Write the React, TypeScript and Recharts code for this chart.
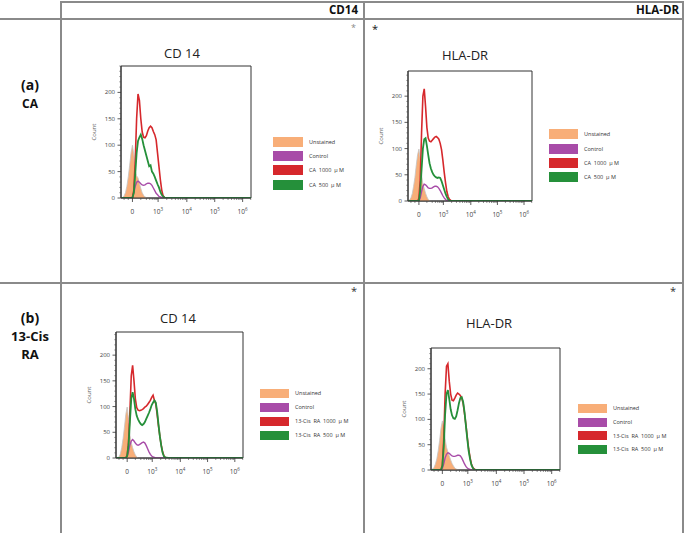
import { ComposedChart, Area, Line, XAxis, YAxis, ReferenceArea } from "recharts";

// channel positions on the display scale (0 -> "0", 0.92 -> 10^3, ...)
const CHANNELS = [
  -0.4, -0.35, -0.3, -0.25, -0.2, -0.15, -0.1, -0.05, 0, 0.05, 0.1, 0.15, 0.2, 0.25, 0.3, 0.35, 0.4, 0.45, 0.5,
  0.55, 0.6, 0.65, 0.7, 0.75, 0.8, 0.85, 0.9, 0.95, 1, 1.05, 1.1, 1.15, 1.2, 1.25, 1.3, 1.35, 1.4, 1.5, 2, 3, 4.25,
];

const Z = (n: number) => Array(n).fill(0);

// (a) CA - CD14
const CD14_CA_UNSTAINED = [0, 1, 4, 10, 22, 40, 62, 85, 100, 82, 52, 42, 38, 28, 18, 10, 5, 2, 1, ...Z(22)];
const CD14_CA_CONTROL = [...Z(8), 2, 10, 22, 30, 32, 30, 27, 25, 24, 25, 27, 28, 28, 27, 24, 19, 14, 9, 6, 3, 2, 1, ...Z(11)];
const CD14_CA_1000 = [...Z(8), 0, 15, 70, 150, 197, 185, 150, 125, 115, 114, 118, 127, 133, 136, 133, 126, 120, 110, 85, 60, 35, 15, 4, 1, ...Z(9)];
const CD14_CA_500 = [...Z(8), 0, 10, 45, 85, 108, 115, 120, 112, 100, 90, 80, 70, 60, 62, 50, 46, 40, 33, 26, 20, 12, 6, 3, 1, ...Z(9)];

// (a) CA - HLA-DR
const HLA_CA_UNSTAINED = [0, 2, 6, 14, 28, 45, 68, 88, 99, 80, 50, 32, 24, 15, 8, 3, 1, ...Z(24)];
const HLA_CA_CONTROL = [...Z(8), 0, 6, 18, 28, 32, 31, 28, 25, 24, 24, 25, 27, 28, 28, 27, 24, 20, 15, 10, 6, 3, 1, ...Z(11)];
const HLA_CA_1000 = [...Z(8), 5, 40, 130, 200, 214, 180, 140, 120, 114, 113, 116, 119, 122, 123, 121, 118, 110, 98, 78, 55, 35, 18, 8, 3, 1, ...Z(8)];
const HLA_CA_500 = [...Z(8), 0, 20, 60, 100, 118, 120, 105, 88, 72, 62, 55, 50, 47, 45, 44, 45, 44, 38, 30, 22, 14, 8, 3, 1, ...Z(9)];

// (b) 13-Cis RA - CD14
const CD14_RA_UNSTAINED = [0, 0, 2, 8, 20, 38, 60, 85, 99, 75, 45, 30, 20, 12, 6, 2, ...Z(25)];
const CD14_RA_CONTROL = [...Z(8), 3, 12, 25, 33, 36, 33, 29, 26, 25, 26, 28, 30, 31, 29, 24, 18, 12, 7, 4, 2, 1, ...Z(12)];
const CD14_RA_1000 = [...Z(8), 5, 30, 90, 160, 180, 150, 115, 98, 93, 92, 93, 94, 96, 99, 101, 104, 108, 112, 118, 122, 112, 105, 85, 62, 42, 25, 12, 4, 1, ...Z(4)];
const CD14_RA_500 = [...Z(8), 4, 25, 70, 115, 128, 115, 95, 82, 75, 70, 66, 64, 66, 70, 76, 82, 88, 95, 103, 108, 112, 108, 90, 65, 42, 24, 10, 3, 1, ...Z(4)];

// (b) 13-Cis RA - HLA-DR
const HLA_RA_UNSTAINED = [0, 2, 5, 12, 22, 38, 58, 82, 97, 85, 62, 45, 36, 28, 20, 13, 8, 4, 2, 1, ...Z(21)];
const HLA_RA_CONTROL = [...Z(8), 3, 12, 24, 31, 34, 33, 30, 28, 27, 27, 28, 29, 29, 28, 24, 18, 12, 7, 4, 2, 1, ...Z(12)];
const HLA_RA_1000 = [...Z(8), 10, 60, 150, 205, 210, 175, 150, 138, 137, 142, 148, 152, 150, 147, 142, 132, 112, 90, 65, 42, 25, 12, 5, 2, ...Z(9)];
const HLA_RA_500 = [...Z(8), 8, 45, 110, 150, 158, 140, 120, 108, 102, 101, 106, 118, 132, 142, 144, 135, 115, 88, 62, 38, 22, 10, 4, 1, ...Z(9)];

const LEGEND_CA = ["Unstained", "Control", "CA  1000  µ M", "CA  500  µ M"];
const LEGEND_RA = ["Unstained", "Control", "13-Cis  RA  1000  µ M", "13-Cis  RA  500  µ M"];

const X_TICKS = [0, 0.92, 1.95, 2.95, 3.95];
const X_TICK_LABELS = [["0", ""], ["10", "3"], ["10", "4"], ["10", "5"], ["10", "6"]];
const Y_TICKS = [0, 50, 100, 150, 200];
const X_DOMAIN = [-0.41, 4.25];

const COLORS = ["#f8ae78", "#a84ca8", "#d6282c", "#25903a"];
const FONT = "'Open Sans', 'Noto Sans', sans-serif";

// minor ticks (display only)
const X_MINOR = [-0.3, -0.15, 0.3, 0.5, 0.62, 0.71, 0.78, 0.84, 0.88];
[0.92, 1.95, 2.95].forEach((s, i) => {
  const next = [1.95, 2.95, 3.95][i];
  for (let k = 2; k < 10; k++) X_MINOR.push(+(s + Math.log10(k) * (next - s)).toFixed(3));
});
X_MINOR.push(4.24);
const X_ALL = [...X_TICKS, ...X_MINOR].sort((a, b) => a - b);

const PANELS = [
  { title: "CD 14", left: 121, top: 66, w: 130, h: 132, yMax: 250, tx: 182, ty: 53, lx: 273, ly: 141.7, gap: 14.3, sw: 30, sh: 10,
    legend: LEGEND_CA, series: [CD14_CA_UNSTAINED, CD14_CA_CONTROL, CD14_CA_1000, CD14_CA_500] },
  { title: "HLA-DR", left: 408, top: 71, w: 124, h: 130, yMax: 248, tx: 465, ty: 55, lx: 549, ly: 134.3, gap: 14.3, sw: 29, sh: 10,
    legend: LEGEND_CA, series: [HLA_CA_UNSTAINED, HLA_CA_CONTROL, HLA_CA_1000, HLA_CA_500] },
  { title: "CD 14", left: 116, top: 332, w: 127, h: 126, yMax: 245, tx: 178, ty: 318, lx: 260, ly: 393, gap: 14, sw: 29, sh: 9,
    legend: LEGEND_RA, series: [CD14_RA_UNSTAINED, CD14_RA_CONTROL, CD14_RA_1000, CD14_RA_500] },
  { title: "HLA-DR", left: 431, top: 348, w: 129, h: 122, yMax: 241, tx: 489, ty: 323, lx: 578, ly: 408.3, gap: 13.7, sw: 29, sh: 9,
    legend: LEGEND_RA, series: [HLA_RA_UNSTAINED, HLA_RA_CONTROL, HLA_RA_1000, HLA_RA_500] },
];

function XTick(props: any) {
  const { x, y, payload } = props;
  const i = X_TICKS.indexOf(payload.value);
  if (i < 0) return <line x1={x} x2={x} y1={y} y2={y + 2} stroke="#444" strokeWidth={0.6} />;
  const [base, exp] = X_TICK_LABELS[i];
  return (
    <g>
      <line x1={x} x2={x} y1={y} y2={y + 4} stroke="#333" strokeWidth={0.8} />
      <text x={x} y={y + 16} textAnchor="middle" fontSize={6.5} fill="#444" fontFamily={FONT}>
        {base}
        {exp && <tspan dy={-3.5} fontSize={4.5}>{exp}</tspan>}
      </text>
    </g>
  );
}

function YTick(props: any) {
  const { x, y, payload } = props;
  const major = Y_TICKS.includes(payload.value);
  if (!major) return <line x1={x} x2={x - 1.8} y1={y} y2={y} stroke="#444" strokeWidth={0.5} />;
  return (
    <g>
      <line x1={x} x2={x - 3.5} y1={y} y2={y} stroke="#333" strokeWidth={0.8} />
      <text x={x - 6} y={y + 2} textAnchor="end" fontSize={6} fill="#444" fontFamily={FONT}>
        {payload.value}
      </text>
    </g>
  );
}

function Panel({ p }: { p: (typeof PANELS)[number] }) {
  const data = CHANNELS.map((ch, i) => ({
    ch,
    unstained: p.series[0][i],
    control: p.series[1][i],
    high: p.series[2][i],
    low: p.series[3][i],
  }));
  const yTicks: number[] = [];
  for (let v = 0; v <= p.yMax; v += 10) yTicks.push(v);
  const ML = 30, MT = 2, MR = 2, XH = 22;
  return (
    <>
      <div style={{ position: "absolute", left: p.tx, top: p.ty - 9, transform: "translateX(-50%)", fontSize: 13, lineHeight: "18px", color: "#222", whiteSpace: "nowrap" }}>
        {p.title}
      </div>
      <div style={{ position: "absolute", left: p.left - 27, top: p.top + p.h / 2, transform: "translate(-50%, -50%) rotate(-90deg)", fontSize: 6, color: "#666" }}>
        Count
      </div>
      <div style={{ position: "absolute", left: p.left - ML, top: p.top - MT }}>
        <ComposedChart width={p.w + ML + MR} height={p.h + MT + XH} data={data} margin={{ top: MT, right: MR, left: 0, bottom: 0 }}>
          <XAxis type="number" dataKey="ch" domain={X_DOMAIN} ticks={X_ALL} interval={0} tick={XTick} tickSize={0} tickMargin={0}
            tickLine={false} axisLine={{ stroke: "#333" }} height={XH} allowDataOverflow />
          <YAxis type="number" domain={[0, p.yMax]} ticks={yTicks} interval={0} tick={YTick} tickSize={0} tickMargin={0}
            tickLine={false} axisLine={{ stroke: "#333" }} width={ML} allowDataOverflow />
          <ReferenceArea x1={X_DOMAIN[0]} x2={X_DOMAIN[1]} y1={0} y2={p.yMax} fill="none" stroke="#333" strokeWidth={1} ifOverflow="extendDomain" />
          <Area type="linear" dataKey="unstained" stroke="#c4c4c4" strokeWidth={0.8} fill={COLORS[0]} fillOpacity={1} isAnimationActive={false} />
          <Line type="linear" dataKey="control" stroke={COLORS[1]} strokeWidth={1.4} dot={false} isAnimationActive={false} />
          <Line type="linear" dataKey="high" stroke={COLORS[2]} strokeWidth={1.6} dot={false} isAnimationActive={false} />
          <Line type="linear" dataKey="low" stroke={COLORS[3]} strokeWidth={1.8} dot={false} isAnimationActive={false} />
        </ComposedChart>
      </div>
      {p.legend.map((label, i) => (
        <div key={label} style={{ position: "absolute", left: p.lx, top: p.ly + i * p.gap - p.sh / 2, height: p.sh, display: "flex", alignItems: "center" }}>
          <div style={{ width: p.sw, height: p.sh, background: COLORS[i] }} />
          <span style={{ marginLeft: 6, fontSize: 5.5, color: "#333", whiteSpace: "pre" }}>{label}</span>
        </div>
      ))}
    </>
  );
}

const line = (l: number, t: number, w: number, h: number) => (
  <div style={{ position: "absolute", left: l, top: t, width: w, height: h, background: "#8a8a8a" }} />
);

export default function App() {
  const rowLabel = { position: "absolute" as const, width: 60, left: 0, textAlign: "center" as const, fontWeight: 700, fontSize: 14, lineHeight: "18px", color: "#111" };
  return (
    <div style={{ position: "absolute", left: 0, top: 0, width: 685, height: 533, background: "#fff", overflow: "hidden", fontFamily: FONT }}>
      {line(60, 1, 624, 2)}
      {line(0, 18, 684, 2)}
      {line(0, 282, 684, 2)}
      {line(60, 1, 2, 532)}
      {line(363, 1, 2, 532)}
      {line(682, 1, 2, 532)}

      <div style={{ position: "absolute", right: 685 - 358, top: 2, fontWeight: 700, fontSize: 11.5, lineHeight: "16px", color: "#111" }}>CD14</div>
      <div style={{ position: "absolute", right: 685 - 679, top: 2, fontWeight: 700, fontSize: 11.5, lineHeight: "16px", color: "#111" }}>HLA-DR</div>

      <div style={{ ...rowLabel, top: 76 }}>(a)</div>
      <div style={{ ...rowLabel, top: 95, fontSize: 12 }}>CA</div>
      <div style={{ ...rowLabel, top: 309 }}>(b)</div>
      <div style={{ ...rowLabel, top: 327, fontSize: 13 }}>13-Cis</div>
      <div style={{ ...rowLabel, top: 345, fontSize: 13 }}>RA</div>

      <div style={{ position: "absolute", left: 351, top: 21, fontSize: 9, color: "#888" }}>*</div>
      <div style={{ position: "absolute", left: 372, top: 21, fontSize: 11, color: "#111" }}>*</div>
      <div style={{ position: "absolute", left: 351, top: 283, fontSize: 11, color: "#333" }}>*</div>
      <div style={{ position: "absolute", left: 670, top: 283, fontSize: 11, color: "#333" }}>*</div>

      {PANELS.map((p, i) => (
        <Panel key={i} p={p} />
      ))}
    </div>
  );
}
